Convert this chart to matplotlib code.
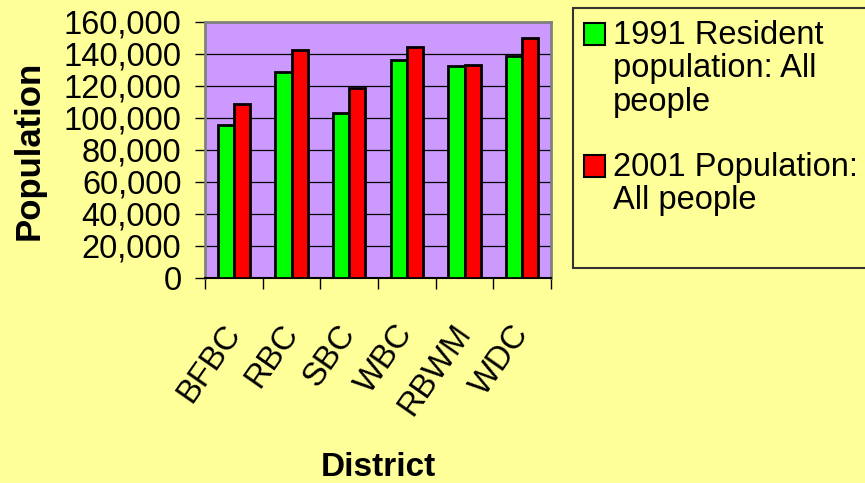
import numpy as np
import matplotlib
matplotlib.use('Agg')
import matplotlib.pyplot as plt
from matplotlib.patches import Rectangle
from matplotlib.ticker import StrMethodFormatter

plt.rcParams['font.family'] = ['Liberation Sans', 'DejaVu Sans']

# Data
districts = ['BFBC', 'RBC', 'SBC', 'WBC', 'RBWM', 'WDC']
pop_1991 = [95500, 128600, 103400, 136300, 132200, 138600]
pop_2001 = [109000, 142800, 118600, 144400, 133400, 150000]
series_names = ['1991 Resident\npopulation: All\npeople', '2001 Population:\nAll people']
series_colors = ['#00FF00', '#FF0000']

bg = '#FFFF99'
fig = plt.figure(figsize=(8.65, 4.83), dpi=100, facecolor=bg)
ax = fig.add_axes([205/865, 1-278/483, 346/865, 256/483])
ax.set_facecolor('#CC99FF')

x = np.arange(len(districts))
w = 0.283
ax.bar(x - w/2, pop_1991, w, color=series_colors[0], edgecolor='black', linewidth=2, zorder=3)
ax.bar(x + w/2, pop_2001, w, color=series_colors[1], edgecolor='black', linewidth=2, zorder=3)

ax.set_xlim(-0.5, len(districts) - 0.5)
ax.set_ylim(0, 160000)
ax.set_yticks(np.arange(0, 160001, 20000))
ax.yaxis.set_major_formatter(StrMethodFormatter('{x:,.0f}'))
ax.yaxis.grid(True, color='black', linewidth=0.9, zorder=1)
ax.set_axisbelow(True)

# ticks on category boundaries, labels at centres
ax.set_xticks(np.arange(-0.5, len(districts), 1))
ax.set_xticklabels([])
ax.set_xticks(x, minor=True)
ax.set_xticklabels(districts, minor=True, rotation=55, ha='right', va='center',
                   rotation_mode='anchor', fontsize=23.5)
ax.tick_params(axis='x', which='minor', length=0, pad=36)
ax.tick_params(axis='x', which='major', length=8, width=1, color='black')
ax.tick_params(axis='y', length=7, width=1, pad=10, labelsize=23.5)

for s in ['left', 'top', 'right']:
    ax.spines[s].set_color('#808080')
    ax.spines[s].set_linewidth(2)
ax.spines['bottom'].set_color('black')
ax.spines['bottom'].set_linewidth(1.5)

ax.set_ylabel('Population', fontsize=25, fontweight='bold')
ax.yaxis.set_label_coords(-0.46, 0.5)
ax.set_xlabel('District', fontsize=24, fontweight='bold')
ax.xaxis.set_label_coords(0.5, -0.68)

# legend box, drawn by hand so the swatch sits on the first line
fig.patches.append(Rectangle((573/865, 1-268/483), 0.4, 260/483, transform=fig.transFigure,
                             facecolor=bg, edgecolor='#333333', linewidth=1.5))
entry_tops = [23, 155]
for name, col, top in zip(series_names, series_colors, entry_tops):
    fig.patches.append(Rectangle((584/865, 1-(top+22)/483), 21/865, 22/483,
                                 transform=fig.transFigure, facecolor=col,
                                 edgecolor='black', linewidth=1.5))
    fig.text(613/865, 1-(top-3)/483, name, fontsize=23.5, va='top', ha='left',
             linespacing=1.1)

fig.savefig('out.png', dpi=100, facecolor=bg)
